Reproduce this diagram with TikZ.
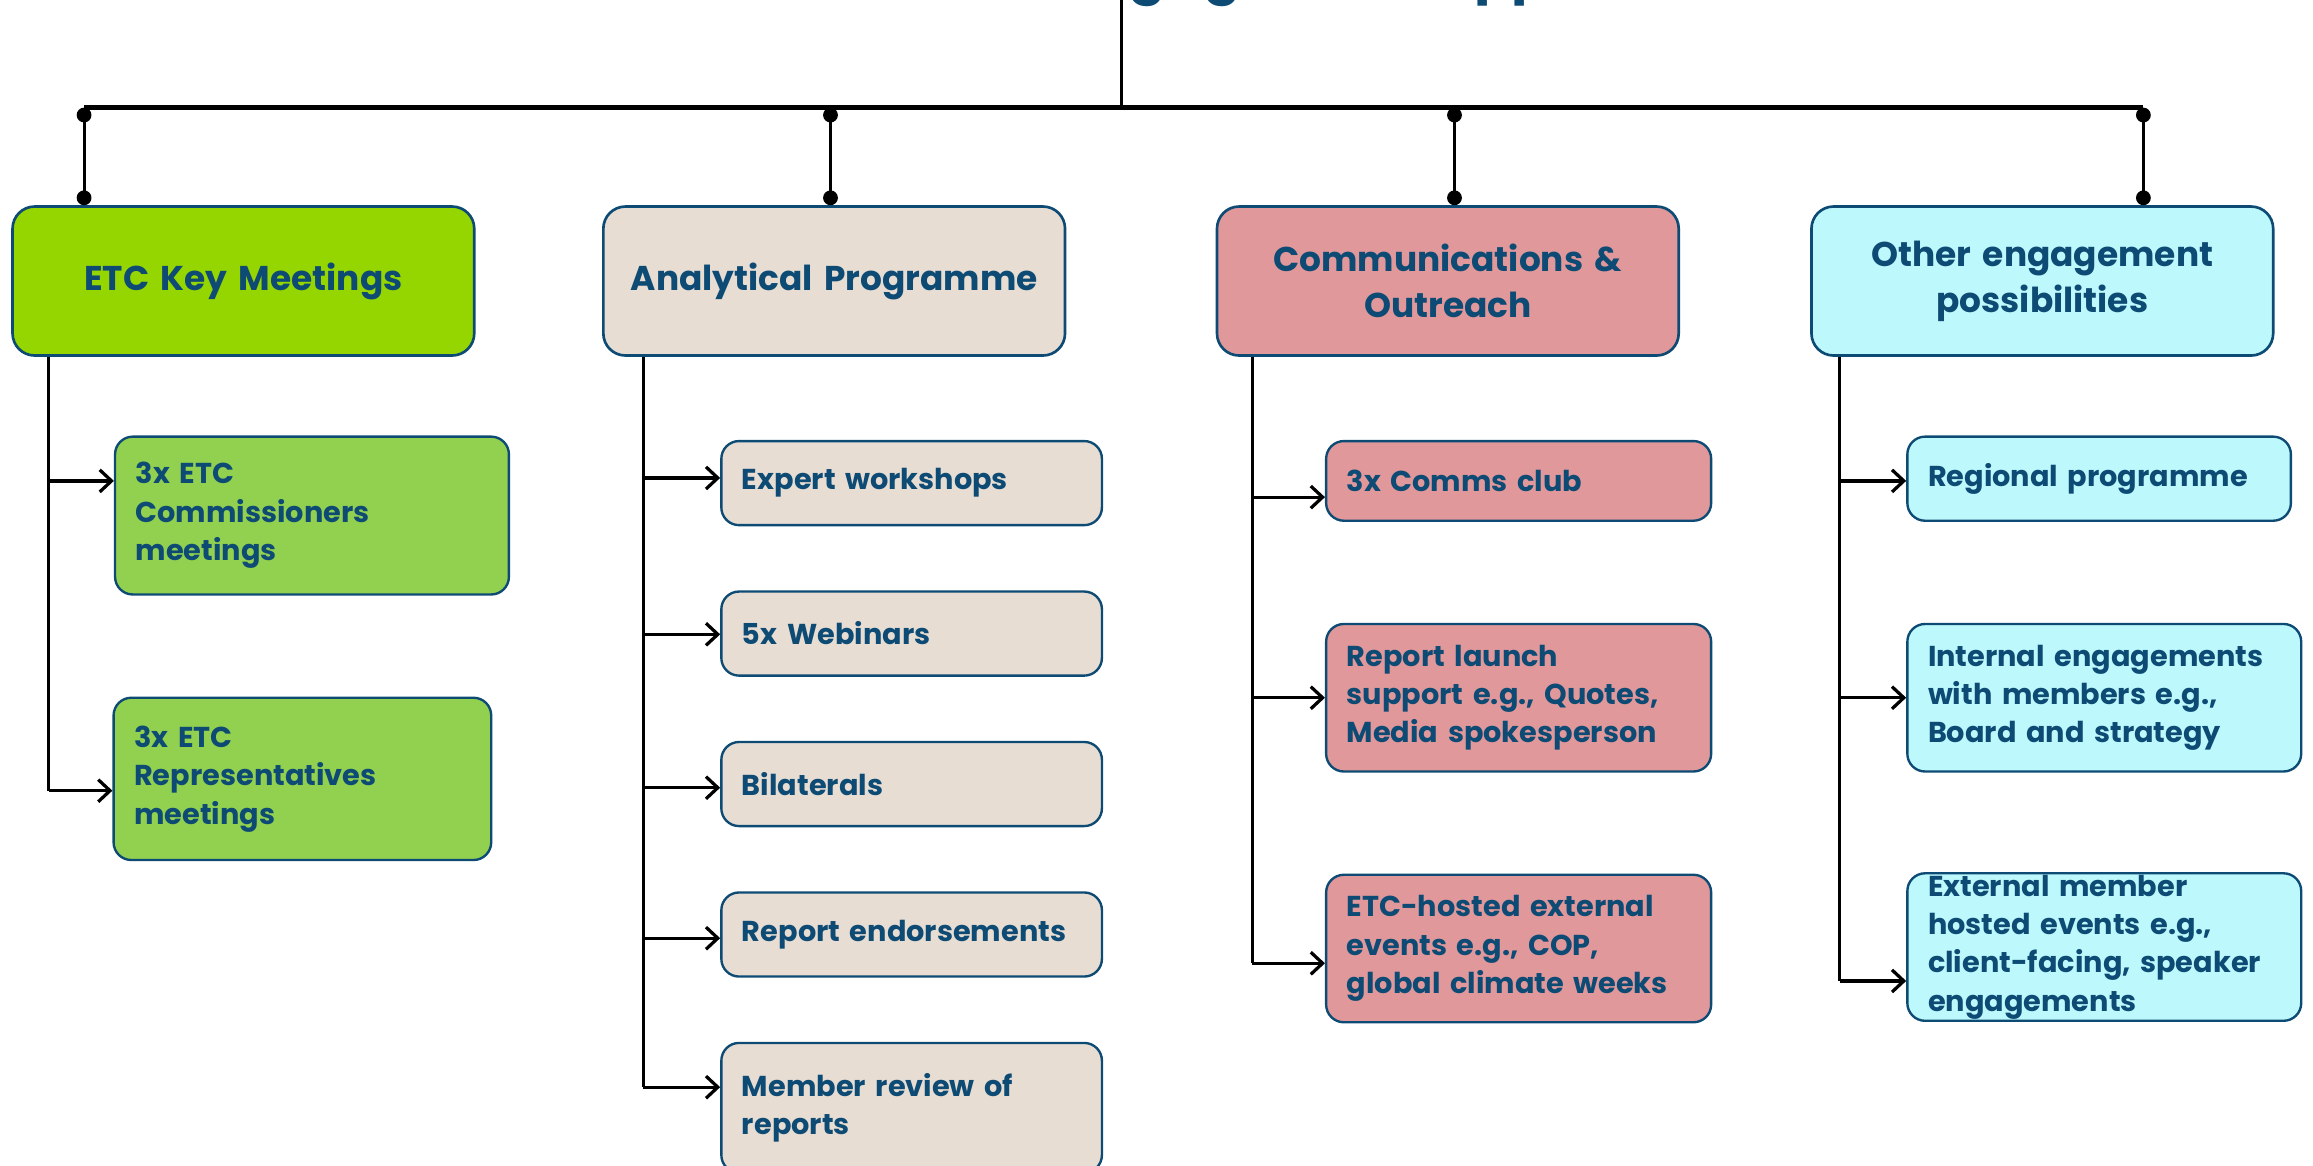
\documentclass[tikz,border=0pt]{standalone}
\usepackage{fontspec}
\setmainfont{Poppins}
\usetikzlibrary{arrows.meta,calc}
\definecolor{navy}{HTML}{0E4B74}
\definecolor{gtop}{HTML}{96D600}
\definecolor{gsub}{HTML}{92D050}
\definecolor{beige}{HTML}{E7DDD3}
\definecolor{pinkb}{HTML}{E0989B}
\definecolor{cyanb}{HTML}{BDF8FD}
\begin{document}
\begin{tikzpicture}[x=1pt,y=-1pt,
  every node/.style={text=navy},
  topbox/.style={draw=navy, line width=1.8pt, rounded corners=15pt, align=center,
     inner xsep=4pt, inner ysep=0pt, minimum height=101pt, text width=305pt,
     font=\fontsize{23.3}{31}\selectfont\bfseries},
  subbox/.style={draw=navy, line width=1.6pt, rounded corners=12pt, align=left,
     inner xsep=14pt, inner ysep=0pt, font=\fontsize{19.5}{26}\selectfont\bfseries},
  bus/.style={line width=3.2pt, black},
  drop/.style={line width=2pt, black, {Circle[length=10pt]}-{Circle[length=10pt]}},
  trunk/.style={line width=2.2pt, black},
  arr/.style={line width=2.2pt, black, -{Straight Barb[length=8pt,width=15pt,line width=2.2pt]}}]
\useasboundingbox (0,0) rectangle (1568,790);

% title (cut off at the top)
\begin{scope}
\clip (0,0) rectangle (1568,790);
\node[inner sep=0pt, anchor=base, font=\fontsize{37.5}{42}\selectfont\bfseries] (title) at (892,-6) {Member engagement opportunities};
\end{scope}

% top boxes
\node[topbox, fill=gtop]  (t1) at (165,190.5)   {ETC Key Meetings};
\node[topbox, fill=beige] (t2) at (565.5,190.5) {Analytical Programme};
\node[topbox, fill=pinkb] (t3) at (981.5,190.5) {Communications \&\\Outreach};
\node[topbox, fill=cyanb] (t4) at (1384.5,190.5){Other engagement\\possibilities};

% bus
\coordinate (hub) at (760,73);
\coordinate (bus1) at (57,73);
\coordinate (bus2) at (563,73);
\coordinate (bus3) at (986,73);
\coordinate (bus4) at (1453,73);
\draw[line width=2pt] (760,0) -- (hub);
\draw[bus] (bus1) -- (bus4);
\draw[drop] (bus1) -- (bus1 |- t1.north);
\draw[drop] (bus2) -- (bus2 |- t2.north);
\draw[drop] (bus3) -- (bus3 |- t3.north);
\draw[drop] (bus4) -- (bus4 |- t4.north);

% column 1
\node[subbox, fill=gsub, text width=239pt, minimum height=107pt] (g1) at (211.5,349.5) {3x ETC\\Commissioners\\meetings};
\node[subbox, fill=gsub, text width=228pt, minimum height=110pt] (g2) at (205,528) {3x ETC\\Representatives\\meetings};

% column 2
\node[subbox, fill=beige, text width=230pt, minimum height=57pt] (b1) at (618,327.5) {Expert workshops};
\node[subbox, fill=beige, text width=230pt, minimum height=57pt] (b2) at (618,429.5) {5x Webinars};
\node[subbox, fill=beige, text width=230pt, minimum height=57pt] (b3) at (618,531.5) {Bilaterals};
\node[subbox, fill=beige, text width=230pt, minimum height=57pt] (b4) at (618,633.5) {Report endorsements};
\node[subbox, fill=beige, text width=230pt, minimum height=88pt] (b5) at (618,751) {Member review of\\reports};

% column 3
\node[subbox, fill=pinkb, text width=233pt, minimum height=54pt] (p1) at (1029.5,326) {3x Comms club};
\node[subbox, fill=pinkb, text width=233pt, minimum height=100pt] (p2) at (1029.5,473) {Report launch\\support e.g., Quotes,\\Media spokesperson};
\node[subbox, fill=pinkb, text width=233pt, minimum height=100pt] (p3) at (1029.5,643) {ETC-hosted external\\events e.g., COP,\\global climate weeks};

% column 4
\node[subbox, fill=cyanb, text width=232pt, minimum height=57pt] (c1) at (1423,324.5) {Regional programme};
\node[subbox, fill=cyanb, text width=239pt, minimum height=100pt] (c2) at (1426.5,473) {Internal engagements\\with members e.g.,\\Board and strategy};
\node[subbox, fill=cyanb, text width=239pt, minimum height=100pt] (c3) at (1426.5,642) {External member\\hosted events e.g.,\\client-facing, speaker\\engagements};

% trunks
\coordinate (k1) at (33,0);
\coordinate (k2) at (436,0);
\coordinate (k3) at (849,0);
\coordinate (k4) at (1247,0);

\draw[trunk] (t1.south -| k1) -- (k1 |- 0,536);
\draw[arr] (k1 |- 0,326) -- (g1.west |- 0,326);
\draw[arr] (k1 |- 0,536) -- (g2.west |- 0,536);

\draw[trunk] (t2.south -| k2) -- (k2 |- 0,737);
\draw[arr] (k2 |- 0,324) -- (b1.west |- 0,324);
\draw[arr] (k2 |- 0,430) -- (b2.west |- 0,430);
\draw[arr] (k2 |- 0,534) -- (b3.west |- 0,534);
\draw[arr] (k2 |- 0,636) -- (b4.west |- 0,636);
\draw[arr] (k2 |- 0,737) -- (b5.west |- 0,737);

\draw[trunk] (t3.south -| k3) -- (k3 |- 0,653);
\draw[arr] (k3 |- 0,337) -- (p1.west |- 0,337);
\draw[arr] (k3 |- 0,473) -- (p2.west |- 0,473);
\draw[arr] (k3 |- 0,653) -- (p3.west |- 0,653);

\draw[trunk] (t4.south -| k4) -- (k4 |- 0,665);
\draw[arr] (k4 |- 0,326) -- (c1.west |- 0,326);
\draw[arr] (k4 |- 0,473) -- (c2.west |- 0,473);
\draw[arr] (k4 |- 0,665) -- (c3.west |- 0,665);
\end{tikzpicture}
\end{document}
